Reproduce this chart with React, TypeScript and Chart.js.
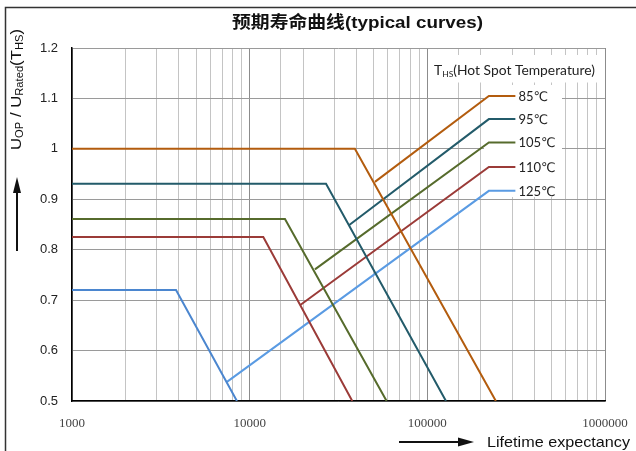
import React, { useEffect, useRef } from 'react';
import { Chart, registerables } from 'chart.js';

Chart.register(...registerables);

// ---------- data ----------
const chartTitle = '预期寿命曲线(typical curves)';
const xAxisTitle = 'Lifetime expectancy';
const temperatureLabels = ['85℃', '95℃', '105℃', '110℃', '125℃'];
const plateauStartLife = 1000;
const plateauLevel = [1.0, 0.931, 0.861, 0.825, 0.72];
const kneeLife = [39100, 26900, 15800, 11930, 3850];
const floorLevel = 0.5;
const floorLife = [243000, 127300, 59000, 37800, 8480];
const leaderStartLife = [50700, 36360, 23300, 19190, 7450];
const leaderStartLevel = [0.9345, 0.849, 0.761, 0.69, 0.538];
const leaderBendLife = 222000;
const leaderEndLife = 313000;
const leaderEndLevel = [1.105, 1.059, 1.0125, 0.964, 0.9167];
const xMin = 1000;
const xMax = 1000000;
const yMin = 0.5;
const yMax = 1.2;
const yStep = 0.1;

// ---------- styles ----------
const curveColors = ['#B35C0E', '#235B6A', '#566B2C', '#9B3B38', '#4B86CF'];
const leaderColors = ['#B35C0E', '#235B6A', '#566B2C', '#9B3B38', '#5A9BE3'];

type Seg = { text: string; font: string; dy: number };

function richWidth(ctx: CanvasRenderingContext2D, segs: Seg[]) {
  let w = 0;
  for (const s of segs) {
    ctx.font = s.font;
    w += ctx.measureText(s.text).width;
  }
  return w;
}

function drawRich(ctx: CanvasRenderingContext2D, segs: Seg[], x: number, y: number, fitWidth?: number) {
  const w = richWidth(ctx, segs);
  const sx = fitWidth ? fitWidth / w : 1;
  ctx.save();
  ctx.translate(x, y);
  ctx.scale(sx, 1);
  let cx = 0;
  for (const s of segs) {
    ctx.font = s.font;
    ctx.fillText(s.text, cx, s.dy);
    cx += ctx.measureText(s.text).width;
  }
  ctx.restore();
}

function isDecade(v: number) {
  const l = Math.log10(v);
  return Math.abs(l - Math.round(l)) < 1e-9;
}

const decorPlugin = {
  id: 'decor',
  beforeDatasetsDraw(chart: any) {
    const ctx = chart.ctx as CanvasRenderingContext2D;
    ctx.save();
    ctx.fillStyle = '#ffffff';
    ctx.fillRect(431, 55, 169, 27.5);
    ctx.fillRect(484, 85, 78, 112);
    ctx.restore();
  },
  afterDraw(chart: any) {
    const ctx = chart.ctx as CanvasRenderingContext2D;
    const xs = chart.scales.x;
    const ys = chart.scales.y;
    ctx.save();
    ctx.fillStyle = '#111';
    ctx.strokeStyle = '#111';

    // title
    ctx.textBaseline = 'alphabetic';
    drawRich(ctx, [{ text: chartTitle, font: "bold 17px 'Liberation Sans', 'Noto Sans CJK SC', sans-serif", dy: 0 }], 232, 28, 251);

    // y axis title (rotated)
    ctx.save();
    ctx.translate(20.5, 150);
    ctx.rotate(-Math.PI / 2);
    const mainF = "15px 'Liberation Sans', sans-serif";
    const subF = "10px 'Liberation Sans', sans-serif";
    drawRich(ctx, [
      { text: 'U', font: mainF, dy: 0 },
      { text: 'OP', font: subF, dy: 2.5 },
      { text: ' / U', font: mainF, dy: 0 },
      { text: 'Rated', font: subF, dy: 2.5 },
      { text: '(T', font: mainF, dy: 0 },
      { text: 'HS', font: subF, dy: 2.5 },
      { text: ')', font: mainF, dy: 0 },
    ], 0, 0, 121);
    ctx.restore();

    // up arrow
    ctx.lineWidth = 2;
    ctx.beginPath();
    ctx.moveTo(17, 251);
    ctx.lineTo(17, 190);
    ctx.stroke();
    ctx.beginPath();
    ctx.moveTo(17, 177);
    ctx.lineTo(13, 193);
    ctx.lineTo(21, 193);
    ctx.closePath();
    ctx.fill();

    // right arrow
    ctx.beginPath();
    ctx.moveTo(399, 442);
    ctx.lineTo(462, 442);
    ctx.stroke();
    ctx.beginPath();
    ctx.moveTo(474, 442);
    ctx.lineTo(458, 437.5);
    ctx.lineTo(458, 446.5);
    ctx.closePath();
    ctx.fill();

    // x axis title
    drawRich(ctx, [{ text: xAxisTitle, font: "15px 'Liberation Sans', sans-serif", dy: 0 }], 487, 447, 143);

    // legend title
    ctx.fillStyle = '#222';
    drawRich(ctx, [
      { text: 'T', font: "13px Lato, sans-serif", dy: 0 },
      { text: 'HS', font: "8px Lato, sans-serif", dy: 2 },
      { text: '(Hot Spot Temperature)', font: "13px Lato, sans-serif", dy: 0 },
    ], 434, 75, 161);

    // series labels
    ctx.textBaseline = 'middle';
    ctx.font = "13px Lato, 'DejaVu Sans', sans-serif";
    temperatureLabels.forEach((t, i) => {
      const px = xs.getPixelForValue(leaderEndLife) + 3;
      const py = ys.getPixelForValue(leaderEndLevel[i]) + 0.5;
      ctx.fillText(t, px, py);
    });

    // outer frame
    ctx.strokeStyle = '#333';
    ctx.lineWidth = 1.5;
    ctx.beginPath();
    ctx.moveTo(5.5, 451);
    ctx.lineTo(5.5, 7.5);
    ctx.lineTo(636, 7.5);
    ctx.stroke();
    ctx.restore();
  },
};

export default function App() {
  const ref = useRef<HTMLCanvasElement>(null);

  useEffect(() => {
    const canvas = ref.current;
    if (!canvas) return;
    const datasets: any[] = [];
    temperatureLabels.forEach((t, i) => {
      datasets.push({
        label: t,
        data: [
          { x: plateauStartLife, y: plateauLevel[i] },
          { x: kneeLife[i], y: plateauLevel[i] },
          { x: floorLife[i], y: floorLevel },
        ],
        borderColor: curveColors[i],
        borderWidth: 2,
        pointRadius: 0,
        fill: false,
        tension: 0,
      });
    });
    temperatureLabels.forEach((t, i) => {
      datasets.push({
        label: t + ' leader',
        data: [
          { x: leaderStartLife[i], y: leaderStartLevel[i] },
          { x: leaderBendLife, y: leaderEndLevel[i] },
          { x: leaderEndLife, y: leaderEndLevel[i] },
        ],
        borderColor: leaderColors[i],
        borderWidth: 2,
        pointRadius: 0,
        fill: false,
        tension: 0,
      });
    });

    const chart = new Chart(canvas, {
      type: 'line',
      data: { datasets },
      options: {
        responsive: false,
        animation: false,
        layout: { padding: { top: 48, right: 31, left: 0, bottom: 0 } },
        plugins: {
          legend: { display: false },
          tooltip: { enabled: false },
          title: { display: false },
        },
        scales: {
          x: {
            type: 'logarithmic',
            min: xMin,
            max: xMax,
            afterFit: (s: any) => { s.height = 50; s.paddingLeft = 0; s.paddingRight = 0; },
            border: { display: true, color: '#000', width: 1.5 },
            grid: {
              drawTicks: false,
              lineWidth: 1,
              color: (c: any) => (c.tick && isDecade(c.tick.value) ? '#8c8c8c' : '#c4c4c4'),
            },
            ticks: {
              autoSkip: false,
              maxRotation: 0,
              padding: 15,
              color: '#444',
              font: { family: "'Liberation Serif', serif", size: 13 },
              callback: (v: any) => (isDecade(Number(v)) ? String(Number(v)) : ''),
            },
          },
          y: {
            type: 'linear',
            min: yMin,
            max: yMax,
            afterFit: (s: any) => { s.width = 72; s.paddingTop = 0; s.paddingBottom = 0; },
            border: { display: true, color: '#000', width: 1.5 },
            grid: { drawTicks: false, color: '#9a9a9a', lineWidth: 1 },
            ticks: {
              stepSize: yStep,
              padding: 14,
              color: '#222',
              font: { family: "'Liberation Sans', sans-serif", size: 13 },
              callback: (v: any) => String(Math.round(Number(v) * 10) / 10),
            },
          },
        },
      },
      plugins: [decorPlugin],
    } as any);

    return () => chart.destroy();
  }, []);

  return (
    <div style={{ position: 'fixed', left: 0, top: 0, width: 636, height: 451, background: '#fff' }}>
      <canvas ref={ref} width={636} height={451} style={{ display: 'block', width: 636, height: 451 }} />
    </div>
  );
}
